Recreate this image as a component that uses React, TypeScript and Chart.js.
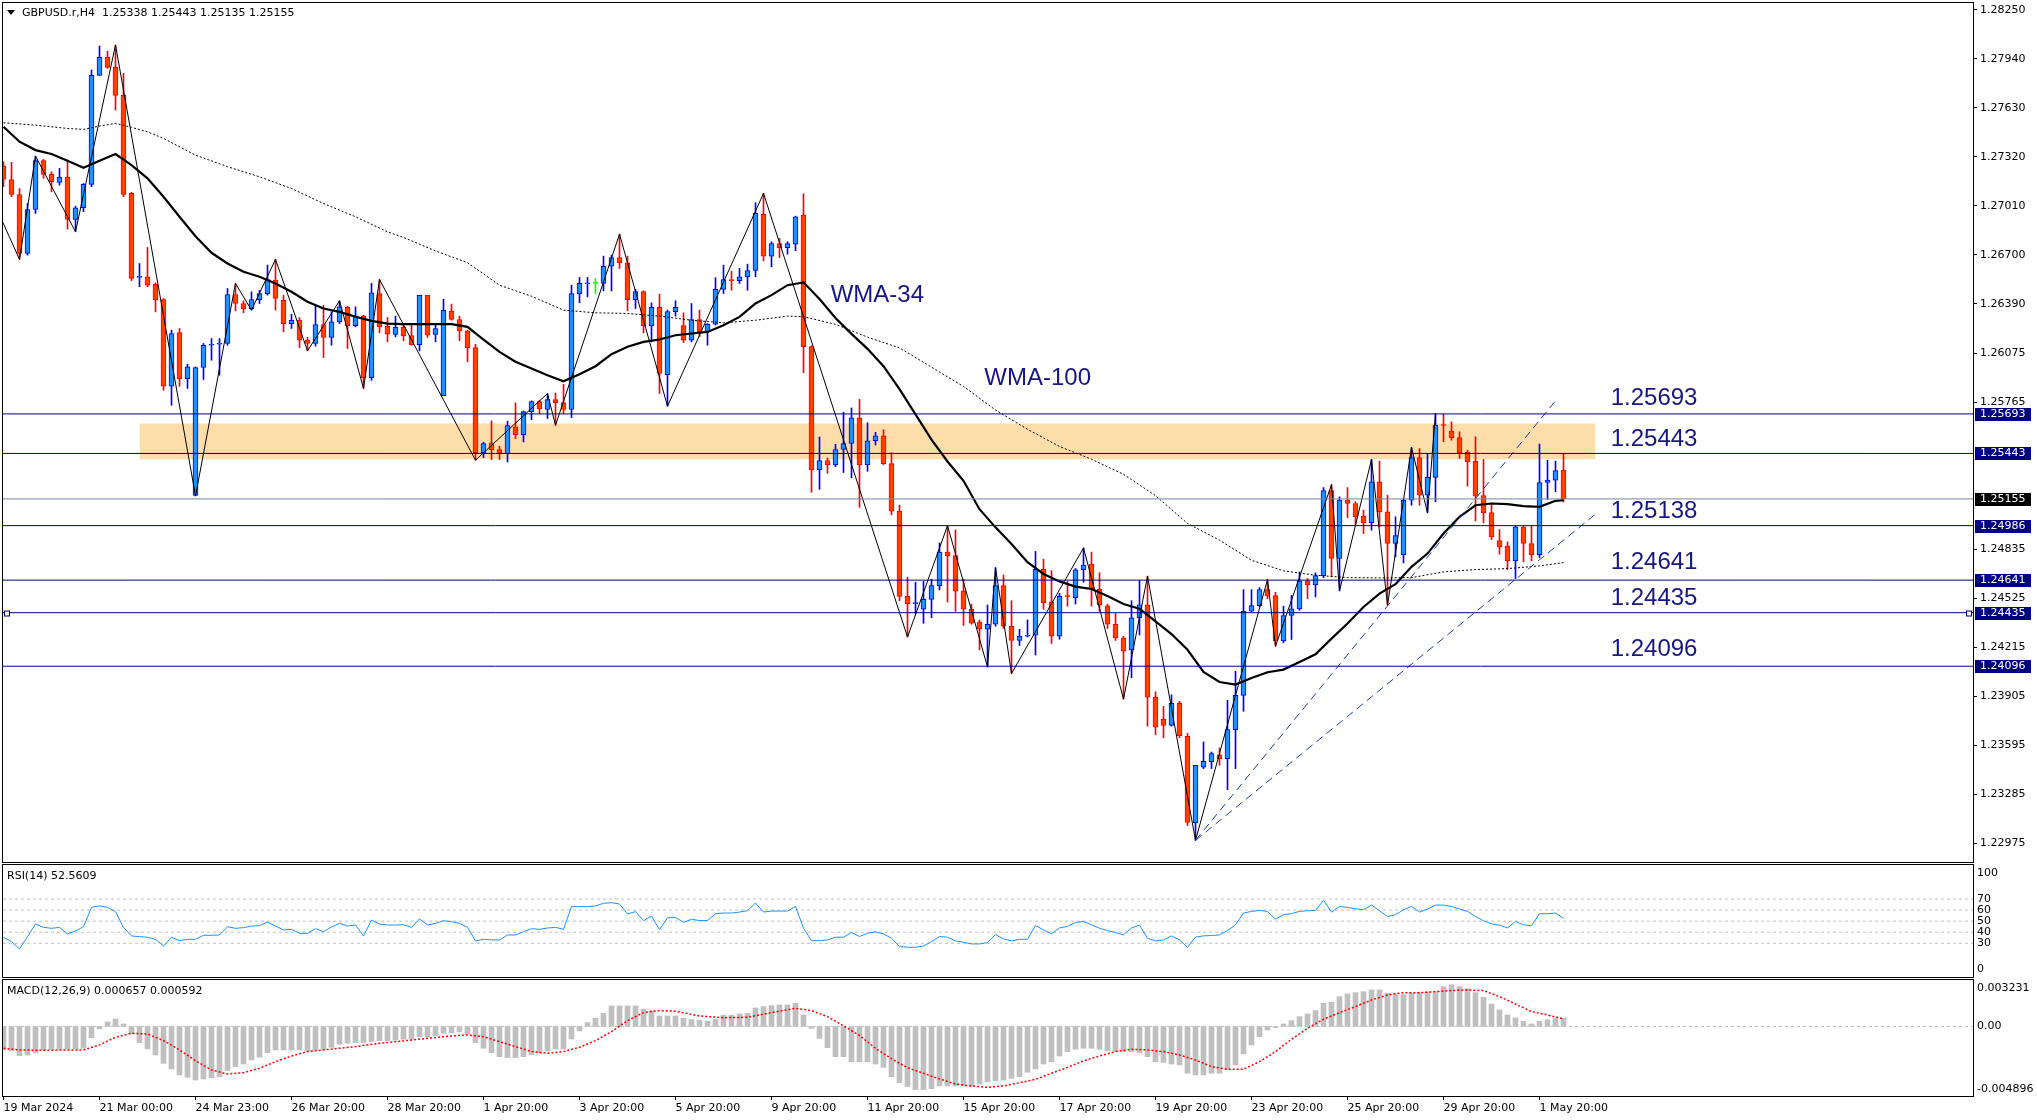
import React, { useEffect, useRef } from "react";
import { Chart, registerables } from "chart.js";
Chart.register(...registerables);

// ---------------- DATA ----------------
const opens = [1.27262,1.27177,1.27082,1.26709,1.26987,1.27296,1.27209,1.27158,1.27192,1.26924,
1.26998,1.27146,1.27836,1.27950,1.27887,1.27709,1.27089,1.26557,1.26561,1.26514,
1.26417,1.25868,1.26208,1.25917,1.25178,1.25987,1.26128,1.26134,1.26139,1.26449,
1.26392,1.26360,1.26417,1.26455,1.26540,1.26413,1.26265,1.26286,1.26160,1.26139,
1.26259,1.26177,1.26276,1.26367,1.26251,1.26314,1.25923,1.26455,1.26248,1.26196,
1.26242,1.26189,1.26132,1.26443,1.26196,1.25809,1.26343,1.26291,1.26219,1.26113,
1.25446,1.25510,1.25467,1.25442,1.25611,1.25562,1.25708,1.25771,1.25721,1.25784,
1.25765,1.25721,1.26455,1.26516,1.26519,1.26519,1.26628,1.26683,1.26650,1.26417,
1.26468,1.26251,1.26367,1.25942,1.26341,1.26253,1.26160,1.26291,1.26213,1.26261,
1.26481,1.26544,1.26536,1.26561,1.26601,1.26956,1.26692,1.26772,1.26745,1.26768,
1.26952,1.26119,1.25338,1.25398,1.25371,1.25468,1.25506,1.25669,1.25371,1.25523,
1.25555,1.25379,1.25078,1.24538,1.24492,1.24457,1.24519,1.24606,1.24818,1.24796,
1.24571,1.24457,1.24376,1.24330,1.24362,1.24606,1.24349,1.24259,1.24286,1.24292,
1.24709,1.24503,1.24286,1.24544,1.24530,1.24707,1.24742,1.24585,1.24479,1.24362,
1.24275,1.24200,1.24403,1.24484,1.23901,1.23760,1.23722,1.23861,1.23652,1.23104,
1.23458,1.23490,1.23536,1.23511,1.23695,1.23912,1.24444,1.24480,1.24581,1.24543,
1.24256,1.24417,1.24459,1.24636,1.24611,1.24670,1.25208,1.24778,1.25147,1.25126,
1.25046,1.25004,1.25263,1.25073,1.24873,1.24803,1.25147,1.25417,1.25179,1.25291,
1.25626,1.25584,1.25544,1.25451,1.25394,1.25177,1.25069,1.24892,1.24856,1.24763,
1.24978,1.24873,1.24803,1.25259,1.25274,1.25338];

const highs = [1.27289,1.27285,1.27120,1.27025,1.27325,1.27304,1.27226,1.27247,1.27300,1.27008,
1.27152,1.27870,1.28022,1.27988,1.28028,1.27849,1.27095,1.26645,1.26747,1.26523,
1.26424,1.26223,1.26234,1.26008,1.25991,1.26139,1.26170,1.26170,1.26487,1.26519,
1.26409,1.26466,1.26476,1.26635,1.26671,1.26445,1.26324,1.26303,1.26177,1.26381,
1.26381,1.26339,1.26409,1.26375,1.26371,1.26318,1.26519,1.26544,1.26303,1.26312,
1.26261,1.26265,1.26443,1.26443,1.26261,1.26419,1.26388,1.26312,1.26223,1.26134,
1.25514,1.25649,1.25488,1.25647,1.25763,1.25712,1.25776,1.25780,1.25822,1.25826,
1.25881,1.26508,1.26557,1.26557,1.26550,1.26692,1.26698,1.26831,1.26692,1.26481,
1.26472,1.26396,1.26451,1.26350,1.26409,1.26333,1.26392,1.26350,1.26265,1.26555,
1.26635,1.26597,1.26614,1.26641,1.27030,1.27089,1.26783,1.26804,1.26783,1.26945,
1.27087,1.26125,1.25547,1.25414,1.25501,1.25704,1.25731,1.25786,1.25637,1.25577,
1.25593,1.25447,1.25116,1.24660,1.24628,1.24633,1.24647,1.24877,1.24986,1.24959,
1.24647,1.24490,1.24389,1.24484,1.24720,1.24674,1.24511,1.24330,1.24389,1.24823,
1.24774,1.24701,1.24557,1.24633,1.24715,1.24845,1.24818,1.24688,1.24490,1.24430,
1.24286,1.24511,1.24639,1.24666,1.23934,1.23842,1.23915,1.23874,1.23671,1.23469,
1.23617,1.23553,1.23579,1.23880,1.24064,1.24581,1.24581,1.24594,1.24645,1.24564,
1.24476,1.24545,1.24693,1.24651,1.24687,1.25227,1.25246,1.25168,1.25227,1.25137,
1.25084,1.25405,1.25394,1.25179,1.25042,1.25158,1.25481,1.25474,1.25443,1.25696,
1.25692,1.25643,1.25580,1.25464,1.25548,1.25405,1.25126,1.24961,1.24883,1.24982,
1.24982,1.24989,1.25502,1.25400,1.25394,1.25443];

const lows = [1.27131,1.27068,1.26671,1.26698,1.26962,1.27184,1.27099,1.27141,1.26863,1.26846,
1.26973,1.27131,1.27836,1.27880,1.27616,1.27068,1.26536,1.26498,1.26498,1.26339,
1.25843,1.25748,1.25868,1.25854,1.25174,1.25911,1.26033,1.25938,1.26128,1.26346,
1.26333,1.26350,1.26392,1.26445,1.26350,1.26213,1.26234,1.26113,1.26092,1.26122,
1.26050,1.26128,1.26265,1.26107,1.26244,1.25854,1.25906,1.26206,1.26149,1.26181,
1.26156,1.26128,1.26092,1.26177,1.26149,1.25809,1.26286,1.26156,1.26023,1.25400,
1.25417,1.25404,1.25404,1.25389,1.25537,1.25516,1.25657,1.25695,1.25664,1.25621,
1.25695,1.25670,1.26396,1.26434,1.26455,1.26472,1.26472,1.26614,1.26346,1.26360,
1.26206,1.26149,1.25822,1.25742,1.26312,1.26145,1.26149,1.26181,1.26128,1.26255,
1.26455,1.26476,1.26519,1.26476,1.26561,1.26662,1.26624,1.26683,1.26704,1.26726,
1.25954,1.25197,1.25216,1.25317,1.25360,1.25322,1.25289,1.25102,1.25330,1.25496,
1.25371,1.25054,1.24511,1.24281,1.24430,1.24368,1.24403,1.24579,1.24503,1.24443,
1.24354,1.24362,1.24200,1.24091,1.24349,1.24335,1.24050,1.24227,1.24281,1.24167,
1.24457,1.24240,1.24267,1.24476,1.24490,1.24628,1.24476,1.24443,1.24335,1.24259,
1.23888,1.24023,1.24294,1.23717,1.23663,1.23644,1.23717,1.23644,1.23088,1.22994,
1.23448,1.23448,1.23469,1.23315,1.23448,1.23811,1.24440,1.24472,1.24524,1.24222,
1.24244,1.24265,1.24450,1.24524,1.24535,1.24657,1.24662,1.24573,1.25037,1.24995,
1.24936,1.24957,1.24978,1.24482,1.24788,1.24750,1.25115,1.25115,1.25067,1.25137,
1.25517,1.25527,1.25411,1.25236,1.25016,1.25004,1.24898,1.24805,1.24708,1.24651,
1.24757,1.24763,1.24784,1.25151,1.25200,1.25135];

const closes = [1.27177,1.27082,1.26709,1.26987,1.27296,1.27209,1.27163,1.27192,1.26924,1.26998,
1.27146,1.27836,1.27950,1.27887,1.27709,1.27082,1.26550,1.26561,1.26508,1.26417,
1.25868,1.26202,1.25917,1.25991,1.25987,1.26128,1.26132,1.26139,1.26449,1.26392,
1.26360,1.26417,1.26455,1.26544,1.26424,1.26265,1.26286,1.26160,1.26139,1.26259,
1.26177,1.26276,1.26371,1.26251,1.26314,1.25923,1.26460,1.26244,1.26198,1.26242,
1.26189,1.26132,1.26443,1.26191,1.26234,1.26348,1.26291,1.26219,1.26113,1.25446,
1.25505,1.25467,1.25442,1.25619,1.25562,1.25708,1.25771,1.25725,1.25784,1.25765,
1.25721,1.26455,1.26519,1.26519,1.26519,1.26628,1.26683,1.26650,1.26417,1.26468,
1.26251,1.26367,1.25949,1.26341,1.26367,1.26160,1.26291,1.26213,1.26261,1.26481,
1.26544,1.26536,1.26561,1.26601,1.26962,1.26692,1.26772,1.26745,1.26772,1.26941,
1.26119,1.25338,1.25398,1.25371,1.25468,1.25506,1.25669,1.25371,1.25523,1.25555,
1.25379,1.25078,1.24538,1.24490,1.24498,1.24519,1.24606,1.24818,1.24796,1.24571,
1.24457,1.24368,1.24330,1.24362,1.24606,1.24349,1.24259,1.24286,1.24292,1.24709,
1.24498,1.24286,1.24538,1.24536,1.24707,1.24736,1.24585,1.24484,1.24362,1.24275,
1.24191,1.24403,1.24484,1.23901,1.23711,1.23722,1.23861,1.23657,1.23107,1.23469,
1.23494,1.23543,1.23511,1.23695,1.23912,1.24444,1.24480,1.24581,1.24541,1.24256,
1.24417,1.24459,1.24636,1.24611,1.24670,1.25208,1.24778,1.25147,1.25126,1.25042,
1.25004,1.25263,1.25073,1.24873,1.24923,1.25147,1.25417,1.25179,1.25291,1.25622,
1.25620,1.25542,1.25447,1.25390,1.25172,1.25067,1.24915,1.24852,1.24763,1.24978,
1.24873,1.24803,1.25259,1.25274,1.25335,1.25155];

const wma34Bars = [...Array.from({ length: 98 }, (_, i) => i * 2), 195];
const wma34Vals = [1.27511,1.27416,1.27363,1.27338,1.27295,1.27251,1.27295,1.27338,1.27268,1.27184,
1.27068,1.26941,1.26818,1.26713,1.26645,1.26593,1.26561,1.26519,1.26466,1.26403,
1.26360,1.26339,1.26308,1.26282,1.26265,1.26261,1.26261,1.26261,1.26261,1.26244,
1.26164,1.26086,1.26023,1.25980,1.25938,1.25900,1.25944,1.25995,1.26071,1.26118,
1.26149,1.26164,1.26191,1.26202,1.26212,1.26255,1.26307,1.26392,1.26445,1.26508,
1.26526,1.26420,1.26300,1.26200,1.26105,1.25995,1.25850,1.25690,1.25530,1.25392,
1.25270,1.25090,1.24975,1.24870,1.24755,1.24680,1.24633,1.24600,1.24585,1.24540,
1.24490,1.24460,1.24380,1.24300,1.24200,1.24060,1.23996,1.23980,1.24022,1.24058,
1.24075,1.24123,1.24172,1.24271,1.24366,1.24471,1.24556,1.24615,1.24725,1.24809,
1.24936,1.25042,1.25115,1.25126,1.25122,1.25109,1.25105,1.25143,1.25147];

const wma100Bars = [0,4,8,10,12,14,16,18,20,24,28,32,36,40,44,48,50,54,58,62,66,70,74,78,82,86,90,94,98,100,
104,108,112,116,120,124,128,132,136,140,144,148,152,156,160,164,168,172,176,180,184,188,192,195];
const wma100Vals = [1.27536,1.27521,1.27500,1.27494,1.27515,1.27532,1.27507,1.27479,1.27437,1.27331,
1.27258,1.27194,1.27120,1.27025,1.26941,1.26846,1.26810,1.26725,1.26650,1.26508,
1.26438,1.26350,1.26333,1.26329,1.26312,1.26286,1.26270,1.26286,1.26312,1.26309,
1.26260,1.26179,1.26111,1.25989,1.25867,1.25718,1.25596,1.25487,1.25406,1.25311,
1.25176,1.25000,1.24894,1.24767,1.24700,1.24672,1.24657,1.24655,1.24657,1.24693,
1.24708,1.24714,1.24731,1.24752];

const zigzagBars = [-0.4,2,4,9,14,24,29,31,34,38,42,45,47,59,68,69,77,83,95,113,118,123,124,126,135,140,143,149,158,159,166,167,171,173,176,178,179];
const zigzagVals = [1.26941,1.26671,1.27325,1.26846,1.28028,1.25174,1.26519,1.26350,1.26671,1.26092,
1.26409,1.25854,1.26544,1.25400,1.25822,1.25621,1.26831,1.25742,1.27089,1.24281,
1.24986,1.24091,1.24720,1.24050,1.24845,1.23888,1.24666,1.22994,1.24645,1.24222,
1.25246,1.24573,1.25405,1.24482,1.25481,1.25067,1.25696];

const levelValues = [1.25693, 1.25443, 1.24986, 1.24641, 1.24435, 1.24096];
const selectedLevel = 1.24435;
const currentPrice = 1.25155;
const zoneBars = [17, 199];
const zoneTop = 1.25632;
const zoneBottom = 1.25406;
const trendStartBar = 149;
const trendStartVal = 1.22994;
const trendEndBars = [194, 199.2];
const trendEndVals = [1.25776, 1.25067];

const priceTicks = [1.28250,1.27940,1.27630,1.27320,1.27010,1.26700,1.26390,1.26075,1.25765,1.24835,1.24525,1.24215,1.23905,1.23595,1.23285,1.22975];
const xTickBars = [0,12,24,36,48,60,72,84,96,108,120,132,144,156,168,180,192];
const xTickLabels = ["19 Mar 2024","21 Mar 00:00","24 Mar 23:00","26 Mar 20:00","28 Mar 20:00","1 Apr 20:00","3 Apr 20:00","5 Apr 20:00","9 Apr 20:00","11 Apr 20:00","15 Apr 20:00","17 Apr 20:00","19 Apr 20:00","23 Apr 20:00","25 Apr 20:00","29 Apr 20:00","1 May 20:00"];

const annotTexts = ["WMA-34","WMA-100","1.25693","1.25443","1.25138","1.24641","1.24435","1.24096"];
const annotBars = [103.4,122.6,200.9,200.9,200.9,200.9,200.9,200.9];
const annotVals = [1.26445,1.25916,1.25793,1.25533,1.25077,1.24754,1.24526,1.24203];

const headerSymbol = "GBPUSD.r,H4";
const headerOHLC = "1.25338 1.25443 1.25135 1.25155";

const rsiLabel = "RSI(14) 52.5609";
const rsiValues = [35.4,31.5,24.9,36.0,47.4,44.4,43.5,44.4,38.4,41.1,
45.0,62.5,63.7,62.5,58.6,44.4,36.6,36.0,35.4,33.6,
27.6,35.4,32.4,33.6,33.6,37.2,37.2,37.5,45.0,43.5,
44.1,45.6,45.9,49.2,45.6,42.0,42.6,39.0,39.0,43.2,
40.5,44.7,48.0,45.6,46.5,36.6,51.0,47.4,46.5,46.5,
46.8,44.4,52.0,46.5,48.0,50.4,49.5,48.0,44.4,32.1,
33.6,33.0,33.0,37.5,37.5,40.5,43.2,42.6,43.8,44.4,
42.6,63.1,63.1,63.1,63.7,66.1,66.7,65.5,56.5,58.6,
50.4,54.5,42.3,53.0,53.4,48.8,51.7,50.5,50.6,56.7,
57.3,57.3,58.2,59.4,66.4,58.2,59.1,59.1,59.1,63.3,
43.6,32.4,32.4,33.0,35.5,35.5,39.7,36.1,39.1,40.3,
38.5,34.5,27.0,26.4,26.4,27.6,31.5,36.1,35.5,32.1,
30.9,29.4,29.4,30.6,37.9,33.9,32.1,33.6,33.6,46.1,
42.1,38.5,43.9,45.2,48.8,49.7,46.7,43.6,41.5,39.7,
37.6,43.9,46.4,34.5,32.1,33.0,36.7,33.0,26.4,35.5,
36.7,37.0,37.6,41.5,46.7,57.3,58.8,59.7,58.8,51.8,
55.8,56.7,58.8,59.4,59.7,68.8,58.2,63.3,62.4,61.2,
60.3,64.5,59.4,54.2,55.8,60.3,63.3,58.2,60.9,64.5,
64.5,63.3,60.9,58.8,54.2,50.3,47.6,46.4,43.9,49.7,
46.7,45.8,56.7,56.7,57.3,52.6];
const rsiLevels = [30, 40, 50, 60, 70];
const rsiAxisLabels = [100, 70, 60, 50, 40, 30, 0];

const macdLabel = "MACD(12,26,9) 0.000657 0.000592";
const macdMain = [-0.00182,-0.00190,-0.00226,-0.00221,-0.00203,-0.00182,-0.00177,-0.00177,-0.00174,-0.00174,
-0.00169,-0.00087,-0.00019,0.00035,0.00058,0.00019,-0.00058,-0.00125,-0.00174,-0.00221,
-0.00286,-0.00329,-0.00376,-0.00394,-0.00415,-0.00407,-0.00397,-0.00391,-0.00342,-0.00311,
-0.00291,-0.00260,-0.00239,-0.00203,-0.00182,-0.00182,-0.00182,-0.00182,-0.00190,-0.00182,
-0.00177,-0.00162,-0.00138,-0.00130,-0.00125,-0.00125,-0.00118,-0.00110,-0.00110,-0.00105,
-0.00099,-0.00099,-0.00079,-0.00079,-0.00071,-0.00053,-0.00048,-0.00040,-0.00061,-0.00125,
-0.00169,-0.00203,-0.00234,-0.00242,-0.00242,-0.00234,-0.00218,-0.00203,-0.00190,-0.00174,
-0.00174,-0.00097,-0.00035,0.00030,0.00063,0.00102,0.00159,0.00159,0.00159,0.00159,
0.00133,0.00122,0.00081,0.00081,0.00081,0.00063,0.00054,0.00047,0.00040,0.00056,
0.00087,0.00087,0.00097,0.00102,0.00143,0.00154,0.00162,0.00167,0.00167,0.00180,
0.00090,-0.00015,-0.00092,-0.00164,-0.00234,-0.00234,-0.00273,-0.00273,-0.00273,-0.00291,
-0.00317,-0.00390,-0.00436,-0.00466,-0.00490,-0.00490,-0.00482,-0.00461,-0.00461,-0.00461,
-0.00461,-0.00461,-0.00446,-0.00428,-0.00422,-0.00415,-0.00402,-0.00389,-0.00355,-0.00329,
-0.00291,-0.00273,-0.00229,-0.00195,-0.00177,-0.00169,-0.00169,-0.00177,-0.00187,-0.00195,
-0.00195,-0.00195,-0.00203,-0.00234,-0.00273,-0.00278,-0.00291,-0.00298,-0.00363,-0.00376,
-0.00376,-0.00363,-0.00363,-0.00332,-0.00298,-0.00213,-0.00143,-0.00079,-0.00027,-0.00009,
0.00019,0.00045,0.00076,0.00097,0.00123,0.00180,0.00187,0.00231,0.00252,0.00262,
0.00270,0.00283,0.00283,0.00257,0.00247,0.00247,0.00257,0.00262,0.00267,0.00267,
0.00309,0.00323,0.00309,0.00293,0.00262,0.00226,0.00174,0.00128,0.00089,0.00066,
0.00040,0.00019,0.00040,0.00052,0.00062,0.00066];
const signalBars = [0,2,5,8,10,12,14,16,18,20,22,24,26,28,30,32,34,36,38,40,42,44,47,50,53,56,58,60,62,64,66,68,70,72,74,76,78,80,82,84,87,90,93,96,99,101,103,105,107,109,111,113,115,117,119,121,123,125,127,129,131,133,135,137,139,141,143,145,147,149,151,153,155,157,159,161,163,165,167,169,171,173,175,177,179,181,183,185,187,189,191,193,195];
const signalVals = [-0.00169,-0.00182,-0.00185,-0.00182,-0.00182,-0.00143,-0.00084,-0.00053,-0.00058,-0.00110,
-0.00182,-0.00265,-0.00337,-0.00368,-0.00358,-0.00324,-0.00273,-0.00229,-0.00195,-0.00182,
-0.00169,-0.00156,-0.00130,-0.00112,-0.00092,-0.00074,-0.00066,-0.00079,-0.00118,-0.00156,
-0.00195,-0.00208,-0.00195,-0.00161,-0.00110,-0.00040,0.00045,0.00107,0.00123,0.00118,
0.00081,0.00068,0.00071,0.00107,0.00141,0.00123,0.00076,0.00005,-0.00070,-0.00170,
-0.00250,-0.00320,-0.00363,-0.00407,-0.00446,-0.00461,-0.00472,-0.00461,-0.00436,-0.00410,
-0.00363,-0.00317,-0.00267,-0.00229,-0.00195,-0.00177,-0.00182,-0.00195,-0.00221,-0.00260,
-0.00311,-0.00332,-0.00332,-0.00273,-0.00195,-0.00099,-0.00014,0.00056,0.00107,0.00154,
0.00205,0.00244,0.00262,0.00262,0.00270,0.00278,0.00283,0.00278,0.00231,0.00174,
0.00115,0.00089,0.00059];
const macdAxisLabels = [0.003231, 0, -0.004896];
const macdAxisTexts = ["0.003231", "0.00", "-0.004896"];

// ---------------- LAYOUT / STYLE ----------------
const W = 2037;
const AXIS_W = 64;
const X_MIN = -0.0625;
const X_MAX = 246.1875;
const P_MIN = 1.22857;
const P_MAX = 1.28294;
const FONT = "'DejaVu Sans', sans-serif";
const ANNOT_FONT = "24px 'Liberation Sans', Arial, sans-serif";
const NAVY = "#000080";

const pts = (xs: number[], ys: number[]) => xs.map((x, i) => ({ x, y: ys[i] }));
const lineDs = (data: any[], color: string, width: number, dash: number[], order: number, extra: any = {}) => ({
  type: "line", data, borderColor: color, borderWidth: width, borderDash: dash,
  pointRadius: 0, tension: 0, fill: false, order, ...extra,
});

const framePlugin = {
  id: "frame",
  afterDraw(chart: any) {
    const { ctx, chartArea: a } = chart;
    ctx.save();
    ctx.strokeStyle = "#000";
    ctx.lineWidth = 1;
    const l = Math.round(a.left) - 0.5, t = Math.round(a.top) - 0.5;
    const r = Math.round(a.right) + 0.5, b = Math.round(a.bottom) + 0.5;
    ctx.strokeRect(l, t, r - l, b - t);
    ctx.restore();
  },
};

const priceDecor = {
  id: "priceDecor",
  afterDraw(chart: any) {
    const { ctx, chartArea: a } = chart;
    const x = chart.scales.x, y = chart.scales.y;
    ctx.save();
    ctx.fillStyle = "#000";
    ctx.beginPath(); ctx.moveTo(7, 10); ctx.lineTo(15, 10); ctx.lineTo(11, 15); ctx.closePath(); ctx.fill();
    ctx.font = `11px ${FONT}`; ctx.textBaseline = "middle"; ctx.textAlign = "left";
    ctx.fillText(headerSymbol, 22, 13);
    ctx.fillText(headerOHLC, 102, 13);
    ctx.font = ANNOT_FONT; ctx.fillStyle = "#17177f";
    annotTexts.forEach((t, i) => ctx.fillText(t, x.getPixelForValue(annotBars[i]), y.getPixelForValue(annotVals[i])));
    ctx.font = `11px ${FONT}`;
    const box = (v: number, bg: string) => {
      const py = Math.round(y.getPixelForValue(v));
      ctx.fillStyle = bg; ctx.fillRect(a.right + 2, py - 6, 56, 13);
      ctx.fillStyle = "#fff"; ctx.fillText(v.toFixed(5), a.right + 7, py + 0.5);
    };
    levelValues.forEach((v) => box(v, NAVY));
    box(currentPrice, "#000");
    const sy = Math.round(y.getPixelForValue(selectedLevel)) + 0.5;
    ctx.strokeStyle = NAVY; ctx.fillStyle = "#fff"; ctx.lineWidth = 1;
    [a.left + 1.5, a.right - 6.5].forEach((sx) => { ctx.fillRect(sx, sy - 2.5, 5, 5); ctx.strokeRect(sx, sy - 2.5, 5, 5); });
    ctx.restore();
  },
};

const rsiDecor = {
  id: "rsiDecor",
  afterDraw(chart: any) {
    const { ctx, chartArea: a } = chart;
    const y = chart.scales.y;
    ctx.save();
    ctx.fillStyle = "#000"; ctx.font = `11px ${FONT}`; ctx.textBaseline = "middle"; ctx.textAlign = "left";
    ctx.fillText(rsiLabel, 7, 14);
    rsiAxisLabels.forEach((v) => {
      const off = v === 100 ? 7 : v === 0 ? -7 : 0;
      ctx.fillText(String(v), a.right + 4, y.getPixelForValue(v) + off);
    });
    ctx.restore();
  },
};

const macdDecor = {
  id: "macdDecor",
  afterDraw(chart: any) {
    const { ctx, chartArea: a } = chart;
    const y = chart.scales.y;
    ctx.save();
    ctx.fillStyle = "#000"; ctx.font = `11px ${FONT}`; ctx.textBaseline = "middle"; ctx.textAlign = "left";
    ctx.fillText(macdLabel, 7, 14);
    macdAxisLabels.forEach((v, i) => {
      const off = i === 0 ? 3 : 0;
      ctx.fillText(macdAxisTexts[i], a.right + 4, y.getPixelForValue(v) + off);
    });
    ctx.restore();
  },
};

const hiddenX = { type: "linear", min: X_MIN, max: X_MAX, display: false, offset: false, grid: { offset: false } };
const fitRight = (s: any) => { s.width = AXIS_W; s.paddingTop = 0; s.paddingBottom = 0; };
const baseOpts = {
  responsive: false, animation: false, events: [],
  plugins: { legend: { display: false }, tooltip: { enabled: false } },
};

function priceConfig(): any {
  const dir = closes.map((c, i) => (c > opens[i] ? 1 : c < opens[i] ? -1 : 0));
  const wickCol = dir.map((d) => (d > 0 ? "#0000FF" : d < 0 ? "#FF0000" : "#00FF00"));
  const bodyCol = dir.map((d) => (d > 0 ? "#1E90FF" : d < 0 ? "#FF4000" : "#00FF00"));
  const datasets: any[] = [
    lineDs([{ x: zoneBars[0], y: zoneTop }, { x: zoneBars[1], y: zoneTop }], "rgba(0,0,0,0)", 0, [], 100,
      { fill: { value: zoneBottom }, backgroundColor: "#FDDEAB" }),
    { type: "bar", data: lows.map((l, i) => ({ x: i, y: [l, highs[i]] })), backgroundColor: wickCol,
      borderWidth: 0, barThickness: 1, grouped: false, order: 60 },
    { type: "bar", data: opens.map((o, i) => ({ x: i, y: [o, closes[i]] })), backgroundColor: bodyCol,
      borderColor: wickCol, borderWidth: 1, borderSkipped: false, barThickness: 5, minBarLength: 1, grouped: false, order: 50 },
    lineDs(pts(wma100Bars, wma100Vals), "#000", 1, [2, 2], 40),
    lineDs(pts(wma34Bars, wma34Vals), "#000", 2.2, [], 30),
    lineDs(pts(zigzagBars, zigzagVals), "#000", 1, [], 20),
    ...trendEndBars.map((b, i) => lineDs([{ x: trendStartBar, y: trendStartVal }, { x: b, y: trendEndVals[i] }], "#2036b0", 1, [8, 5], 15)),
    ...levelValues.map((v) => lineDs([{ x: X_MIN, y: v }, { x: X_MAX, y: v }], NAVY, 1, [], 10)),
    lineDs([{ x: X_MIN, y: currentPrice }, { x: X_MAX, y: currentPrice }], "#778899", 1, [], 10),
  ];
  return {
    type: "bar",
    data: { datasets },
    options: {
      ...baseOpts,
      layout: { padding: { left: 3, right: 0, top: 3, bottom: 1 } },
      scales: {
        x: hiddenX,
        y: {
          type: "linear", position: "right", min: P_MIN, max: P_MAX,
          afterBuildTicks: (s: any) => { s.ticks = priceTicks.map((v) => ({ value: v })); },
          afterFit: fitRight,
          ticks: { callback: (v: any) => Number(v).toFixed(5), color: "#000", padding: 3, autoSkip: false, font: { family: FONT, size: 11 } },
          grid: { display: true, drawOnChartArea: false, drawTicks: true, tickLength: 4, color: "#000" },
          border: { display: true, color: "#000" },
        },
      },
    },
    plugins: [framePlugin, priceDecor],
  };
}

function rsiConfig(): any {
  const datasets: any[] = [
    ...rsiLevels.map((v) => lineDs([{ x: X_MIN, y: v }, { x: X_MAX, y: v }], "#C0C0C0", 1, [3, 3], 20)),
    lineDs(rsiValues.map((v, i) => ({ x: i, y: v })), "#1E90FF", 1, [], 10),
  ];
  return {
    type: "line",
    data: { datasets },
    options: {
      ...baseOpts,
      layout: { padding: { left: 3, right: 0, top: 3, bottom: 1 } },
      scales: {
        x: hiddenX,
        y: { type: "linear", position: "right", min: -0.45, max: 100.7, afterFit: fitRight,
          ticks: { display: false }, grid: { display: false }, border: { display: true, color: "#000" } },
      },
    },
    plugins: [framePlugin, rsiDecor],
  };
}

function macdConfig(): any {
  const datasets: any[] = [
    lineDs([{ x: X_MIN, y: 0 }, { x: X_MAX, y: 0 }], "#C0C0C0", 1, [3, 3], 30),
    { type: "bar", data: macdMain.map((v, i) => ({ x: i, y: v })), backgroundColor: "#C0C0C0",
      borderWidth: 0, barThickness: 5, grouped: false, order: 20 },
    lineDs(pts(signalBars, signalVals), "#FF0000", 1.5, [2, 2], 5),
  ];
  return {
    type: "bar",
    data: { datasets },
    options: {
      ...baseOpts,
      layout: { padding: { left: 3, right: 0, top: 3, bottom: 0 } },
      scales: {
        x: {
          type: "linear", position: "bottom", min: X_MIN, max: X_MAX, offset: false,
          afterBuildTicks: (s: any) => { s.ticks = xTickBars.map((v) => ({ value: v })); },
          afterFit: (s: any) => { s.height = 24; s.paddingLeft = 0; s.paddingRight = 0; },
          ticks: { align: "start", padding: 2, autoSkip: false, maxRotation: 0, minRotation: 0, color: "#000",
            font: { family: FONT, size: 11 }, callback: (_v: any, i: number) => xTickLabels[i] },
          grid: { display: true, drawOnChartArea: false, drawTicks: true, tickLength: 4, color: "#000", offset: false },
          border: { display: true, color: "#000" },
        },
        y: { type: "linear", position: "right", min: -0.00539, max: 0.0036, afterFit: fitRight,
          ticks: { display: false }, grid: { display: false }, border: { display: true, color: "#000" } },
      },
    },
    plugins: [framePlugin, macdDecor],
  };
}

export default function App() {
  const priceRef = useRef<HTMLCanvasElement>(null);
  const rsiRef = useRef<HTMLCanvasElement>(null);
  const macdRef = useRef<HTMLCanvasElement>(null);
  useEffect(() => {
    Chart.defaults.font.family = FONT;
    Chart.defaults.font.size = 11;
    Chart.defaults.color = "#000";
    const charts = [
      new Chart(priceRef.current as HTMLCanvasElement, priceConfig()),
      new Chart(rsiRef.current as HTMLCanvasElement, rsiConfig()),
      new Chart(macdRef.current as HTMLCanvasElement, macdConfig()),
    ];
    return () => charts.forEach((c) => c.destroy());
  }, []);
  const cs = (top: number, h: number): React.CSSProperties => ({ position: "absolute", left: 0, top, width: W, height: h });
  return (
    <div style={{ position: "absolute", left: 0, top: 0, width: W, height: 1120, background: "#fff", overflow: "hidden" }}>
      <canvas ref={priceRef} width={W} height={863} style={cs(0, 863)} />
      <canvas ref={rsiRef} width={W} height={116} style={cs(862, 116)} />
      <canvas ref={macdRef} width={W} height={143} style={cs(977, 143)} />
    </div>
  );
}
